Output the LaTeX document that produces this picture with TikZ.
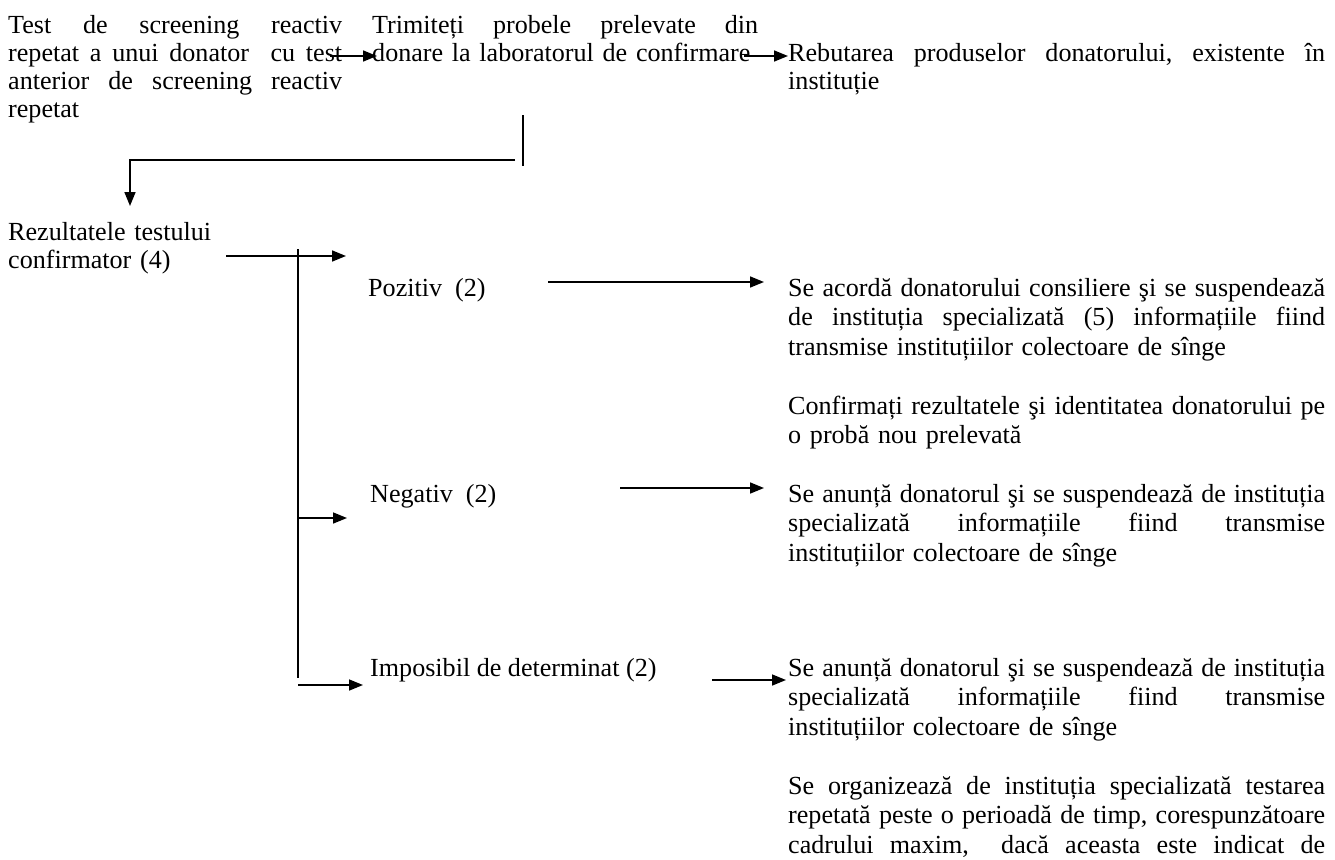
\documentclass[tikz,border=0pt]{standalone}
\usepackage{fontspec}
\setmainfont{Liberation Serif}
\usetikzlibrary{arrows.meta}
\newcommand\jl[2]{\leavevmode\hbox to #1pt{\frenchspacing\spaceskip=0.25em plus 1fil\xspaceskip=0.25em plus 1fil #2}}
\begin{document}
\begin{tikzpicture}[x=1pt,y=-1pt,
  txt/.style={inner sep=0pt, anchor=base west, font=\fontsize{26.1}{28}\selectfont},
  para/.style={txt, text width=#1pt, align=left},
  rpara/.style={txt, text width=545pt, align=left, font=\fontsize{26.1}{29.5}\selectfont},
  conn/.style={line width=1.6pt},
  arr/.style={conn, -{Triangle[length=14pt,width=11pt]}}]
\useasboundingbox (0,0) rectangle (1335,859);
% top row
\node[para=340] (t1) at (8,34) {\jl{334}{Test de screening reactiv}\\\jl{334}{repetat a unui donator\ \ cu test}\\\jl{334}{anterior de screening reactiv}\\repetat};
\node[para=400] (t2) at (372,34) {\jl{386}{Trimiteți probele prelevate din}\\donare la laboratorul de confirmare};
\node[para=545] (t3) at (788,62) {\jl{537}{Rebutarea produselor donatorului, existente în}\\instituție};
\coordinate (a1s) at (330,56); \coordinate (a1e) at (377,56);
\coordinate (a2s) at (744,56); \coordinate (a2e) at (788,56);
\draw[arr] (a1s) -- (a1e);
\draw[arr] (a2s) -- (a2e);
% separate vertical stroke and return line
\coordinate (vs) at (523,115); \coordinate (ve) at (523,166);
\draw[conn] (vs) -- (ve);
\coordinate (hs) at (515,160); \coordinate (hc) at (130,160); \coordinate (he) at (130,206);
\draw[arr] (hs) -- (hc) -- (he);
% results
\node[para=230] (rez) at (8,240) {Rezultatele testului\\confirmator (4)};
\node[txt] (poz) at (368,296) {Pozitiv\ \ (2)};
\node[txt] (neg) at (370,502) {Negativ\ \ (2)};
\node[txt] (imp) at (370,676) {Imposibil de determinat (2)};
\coordinate (b0s) at (226,256); \coordinate (b0e) at (346,256);
\draw[arr] (b0s) -- (b0e);
\coordinate (bvs) at (298,249); \coordinate (bve) at (298,678);
\draw[conn] (bvs) -- (bve);
\coordinate (b1s) at (298,518); \coordinate (b1e) at (347,518);
\draw[arr] (b1s) -- (b1e);
\coordinate (b2s) at (298,685); \coordinate (b2e) at (363,685);
\draw[arr] (b2s) -- (b2e);
% right column
\node[rpara] (p1) at (788,296) {\jl{537}{Se acordă donatorului consiliere şi se suspendează}\\\jl{537}{de instituția specializată (5) informațiile fiind}\\transmise instituțiilor colectoare de sînge};
\node[rpara] (p2) at (788,414) {\jl{537}{Confirmați rezultatele şi identitatea donatorului pe}\\o probă nou prelevată};
\node[rpara] (p3) at (788,502) {\jl{537}{Se anunță donatorul şi se suspendează de instituția}\\\jl{537}{specializată informațiile fiind transmise}\\instituțiilor colectoare de sînge};
\node[rpara] (p4) at (788,676) {\jl{537}{Se anunță donatorul şi se suspendează de instituția}\\\jl{537}{specializată informațiile fiind transmise}\\instituțiilor colectoare de sînge};
\node[rpara] (p5) at (788,794) {\jl{537}{Se organizează de instituția specializată testarea}\\\jl{537}{repetată peste o perioadă de timp, corespunzătoare}\\\jl{537}{cadrului maxim,\ \ dacă aceasta este indicat de}};
\coordinate (r1s) at (548,282); \coordinate (r1e) at (764,282);
\draw[arr] (r1s) -- (r1e);
\coordinate (r2s) at (620,488); \coordinate (r2e) at (764,488);
\draw[arr] (r2s) -- (r2e);
\coordinate (r3s) at (712,680); \coordinate (r3e) at (786,680);
\draw[arr] (r3s) -- (r3e);
\end{tikzpicture}
\end{document}
